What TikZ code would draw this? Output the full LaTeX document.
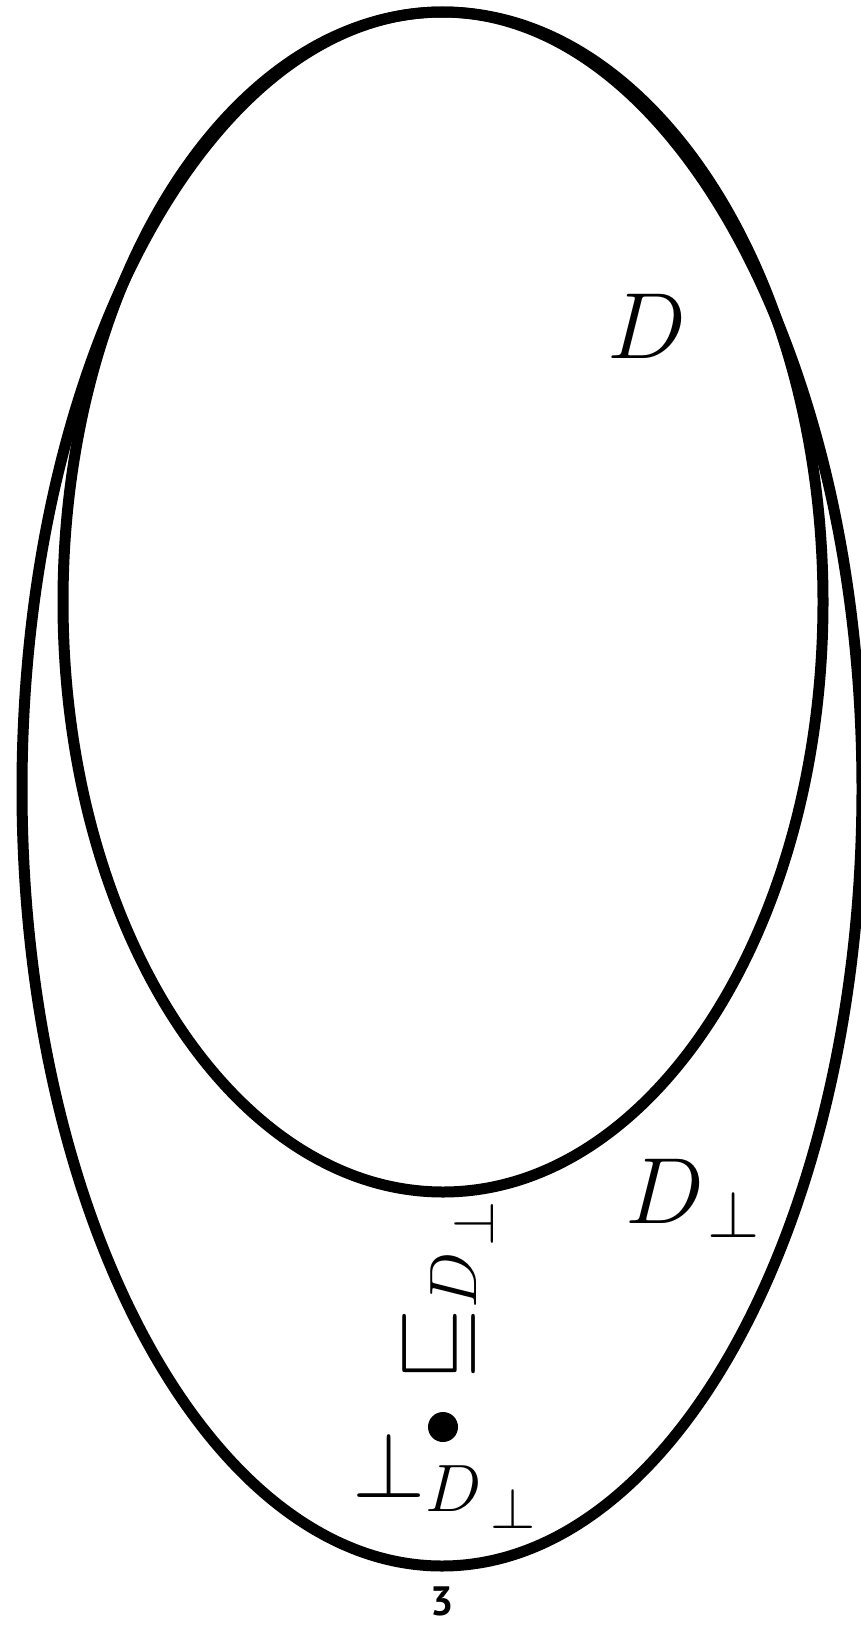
\RequirePackage{fix-cm}
\documentclass[tikz,border=0pt]{standalone}
\usepackage{fontspec}
\newfontfamily\pagefont{PT Sans}
\DeclareMathSizes{94}{94}{67}{58}
\begin{document}
\begin{tikzpicture}[x=1pt,y=-1pt,
  setline/.style={line width=11pt},
  lab/.style={inner sep=0pt,font=\fontsize{94}{94}\selectfont},
  pagenum/.style={inner sep=0pt,text depth=0pt,font=\fontsize{41}{41}\pagefont\bfseries}]
\useasboundingbox (0,0) rectangle (860,1627);
\draw[setline] (442,789) ellipse [x radius=420, y radius=777];
\draw[setline] (443,602) ellipse [x radius=380, y radius=590];
\node[lab,anchor=base west] (dlab) at (607,358) {$D$};
\node[lab,anchor=base west] (dbot) at (625,1223) {$D_{\kern6pt\perp}$};
\node[lab,anchor=base west,rotate=90] (order) at (462,1382) {$\sqsubseteq_{D_{\kern8pt\raisebox{9pt}{$\scriptscriptstyle\perp$}}}$};
\fill (443,1427) circle [radius=15];
\node[lab,anchor=base west] (bot) at (352,1497) {$\perp_{D_{\kern11pt\perp}}$};
\node[pagenum,anchor=base] (page) at (442,1615) {3};
\end{tikzpicture}
\end{document}
